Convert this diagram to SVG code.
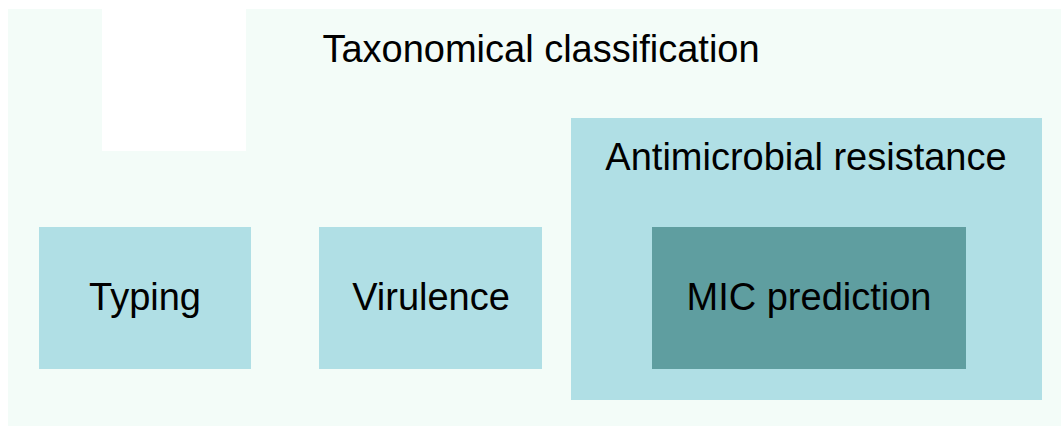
<svg xmlns="http://www.w3.org/2000/svg" width="1061" height="426" viewBox="0 0 1061 426">
<style>
text{font-family:"Liberation Sans",Arial,sans-serif;font-size:38px;fill:#000;text-anchor:middle}
.box{fill:#B0DFE5}
.dark{fill:#5F9EA0}
</style>
<rect x="0" y="0" width="1061" height="426" fill="#FFFFFF"/>
<g id="taxonomical-classification">
<rect x="8" y="9" width="1053" height="417" fill="#F3FCF8"/>
<rect x="102" y="9" width="144" height="142" fill="#FFFFFF"/>
<text x="541" y="62">Taxonomical classification</text>
</g>
<g id="typing">
<rect class="box" x="39" y="227" width="212" height="142"/>
<text x="145" y="310">Typing</text>
</g>
<g id="virulence">
<rect class="box" x="319" y="227" width="223" height="142"/>
<text x="431" y="310">Virulence</text>
</g>
<g id="antimicrobial-resistance">
<rect class="box" x="571" y="118" width="471" height="282"/>
<text x="806" y="170">Antimicrobial resistance</text>
</g>
<g id="mic-prediction">
<rect class="dark" x="652" y="227" width="314" height="142"/>
<text x="809" y="310">MIC prediction</text>
</g>
<g id="connectors"/>
</svg>
